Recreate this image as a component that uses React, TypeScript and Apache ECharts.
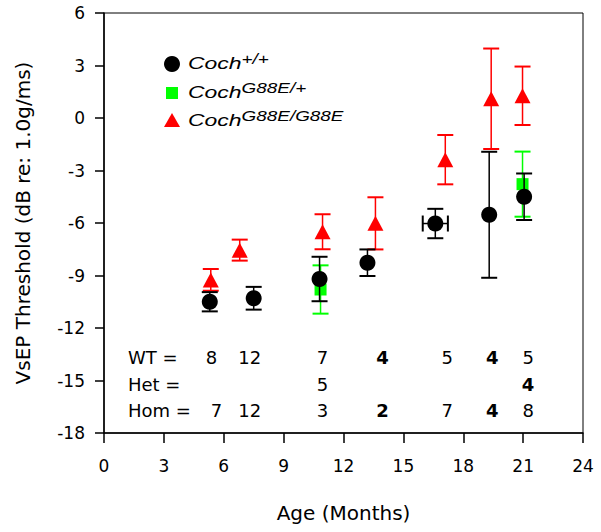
import React, { useEffect, useRef } from 'react';
import * as echarts from 'echarts';

// ---- data ----
const wtAge = [5.3, 7.5, 10.8, 13.2, 16.6, 19.3, 21.05];
const wtMean = [-10.5, -10.3, -9.2, -8.27, -6.03, -5.53, -4.5];
const wtErr = [0.55, 0.65, 1.27, 0.76, 0.84, 3.6, 1.33];
const wtAgeErr = [0, 0, 0, 0, 0.63, 0, 0];

const hetAge = [10.85, 20.97];
const hetMean = [-9.8, -3.78];
const hetErr = [1.38, 1.86];

const homAge = [5.35, 6.8, 10.95, 13.6, 17.1, 19.4, 20.97];
const homMean = [-9.25, -7.55, -6.5, -6.02, -2.38, 1.1, 1.27];
const homErr = [0.62, 0.6, 1.0, 1.49, 1.41, 2.87, 1.67];

const rowLabels = ['WT =', 'Het =', 'Hom ='];
const rowY = [-13.66, -15.2, -16.69];
const rowLabelAge = 1.2;
const wtCountAge = [5.38, 7.3, 10.95, 13.95, 17.2, 19.45, 21.25];
const wtCount = ['8', '12', '7', '4', '5', '4', '5'];
const hetCountAge = [10.95, 21.25];
const hetCount = ['5', '4'];
const homCountAge = [5.63, 7.3, 10.95, 13.95, 17.2, 19.45, 21.25];
const homCount = ['7', '12', '3', '2', '7', '4', '8'];
const boldCounts = ['4', '2'];

const legendBase = 'Coch';
const legendSup = ['+/+', 'G88E/+', 'G88E/G88E'];

const FONT = '"DejaVu Sans", sans-serif';
const LFONT = '"Liberation Sans", Arial, sans-serif';
const BLACK = '#000000';
const GREEN = '#00ff00';
const RED = '#ff0000';

function errRender(color: string, lw: number, capHalf: number) {
  return (params: any, api: any) => {
    const x = api.value(0);
    const y = api.value(1);
    const e = api.value(2);
    const xe = api.value(3) || 0;
    const top = api.coord([x, y + e]);
    const bot = api.coord([x, y - e]);
    const st = { stroke: color, lineWidth: lw };
    const cst = { stroke: color, lineWidth: lw + 0.5 };
    const children: any[] = [
      { type: 'line', shape: { x1: top[0], y1: top[1], x2: bot[0], y2: bot[1] }, style: st },
      { type: 'line', shape: { x1: top[0] - capHalf, y1: top[1], x2: top[0] + capHalf, y2: top[1] }, style: cst },
      { type: 'line', shape: { x1: bot[0] - capHalf, y1: bot[1], x2: bot[0] + capHalf, y2: bot[1] }, style: cst },
    ];
    if (xe > 0) {
      const l = api.coord([x - xe, y]);
      const r = api.coord([x + xe, y]);
      children.push(
        { type: 'line', shape: { x1: l[0], y1: l[1], x2: r[0], y2: r[1] }, style: st },
        { type: 'line', shape: { x1: l[0], y1: l[1] - capHalf, x2: l[0], y2: l[1] + capHalf }, style: cst },
        { type: 'line', shape: { x1: r[0], y1: r[1] - capHalf, x2: r[0], y2: r[1] + capHalf }, style: cst },
      );
    }
    return { type: 'group', children };
  };
}

function textSeries(ages: number[], ys: number[], texts: string[], align: string) {
  return {
    type: 'custom',
    silent: true,
    data: ages.map((a, i) => [a, ys[i]]),
    renderItem: (params: any, api: any) => {
      const p = api.coord([api.value(0), api.value(1)]);
      const t = texts[params.dataIndex];
      return {
        type: 'text',
        x: p[0],
        y: p[1],
        style: {
          text: t,
          fill: BLACK,
          font: `${boldCounts.includes(t) ? 'bold ' : ''}18px ${FONT}`,
          align,
          verticalAlign: 'middle',
        },
      };
    },
    z: 5,
  };
}

export default function App() {
  const ref = useRef<HTMLDivElement>(null);
  useEffect(() => {
    if (!ref.current) return;
    const chart = echarts.init(ref.current, undefined, { renderer: 'svg' });
    const legendY = [64, 93, 121];
    const supRich = {
      a: { fontFamily: LFONT, fontStyle: 'italic', fontSize: 17, lineHeight: 20, verticalAlign: 'bottom', fill: BLACK },
      b: { fontFamily: LFONT, fontStyle: 'italic', fontSize: 14, lineHeight: 14, verticalAlign: 'top', padding: [0, 0, 10, 0], fill: BLACK },
    } as any;
    const graphic: any[] = [
      { type: 'circle', shape: { cx: 172, cy: legendY[0], r: 8 }, style: { fill: BLACK } },
      { type: 'rect', shape: { x: 166, y: legendY[1] - 6, width: 12, height: 12 }, style: { fill: GREEN } },
      {
        type: 'polygon',
        shape: { points: [[172, legendY[2] - 8], [180, legendY[2] + 6], [164, legendY[2] + 6]] },
        style: { fill: RED },
      },
    ];
    legendSup.forEach((s, i) => {
      graphic.push({
        type: 'text',
        x: 188,
        y: legendY[i] - 2,
        scaleX: 1.35,
        style: {
          text: `{a|${legendBase}}{b|${s}}`,
          rich: supRich,
          align: 'left',
          verticalAlign: 'middle',
        },
      });
    });

    const series: any[] = [
      {
        name: 'het-err', type: 'custom', renderItem: errRender(GREEN, 1.5, 8),
        data: hetAge.map((a, i) => [a, hetMean[i], hetErr[i], 0]), z: 2,
      },
      {
        name: 'Het', type: 'scatter', symbol: 'rect', symbolSize: 12, itemStyle: { color: GREEN, opacity: 1 },
        data: hetAge.map((a, i) => [a, hetMean[i]]), z: 2,
      },
      {
        name: 'hom-err', type: 'custom', renderItem: errRender(RED, 1.5, 8),
        data: homAge.map((a, i) => [a, homMean[i], homErr[i], 0]), z: 3,
      },
      {
        name: 'Hom', type: 'scatter', symbol: 'triangle', symbolSize: [16, 15], itemStyle: { color: RED, opacity: 1 },
        data: homAge.map((a, i) => [a, homMean[i]]), z: 3,
      },
      {
        name: 'wt-err', type: 'custom', renderItem: errRender(BLACK, 1.5, 8),
        data: wtAge.map((a, i) => [a, wtMean[i], wtErr[i], wtAgeErr[i]]), z: 4,
      },
      {
        name: 'WT', type: 'scatter', symbol: 'circle', symbolSize: 16, itemStyle: { color: BLACK, opacity: 1 },
        data: wtAge.map((a, i) => [a, wtMean[i]]), z: 4,
      },
      textSeries(rowY.map(() => rowLabelAge), rowY, rowLabels, 'left'),
      textSeries(wtCountAge, wtCountAge.map(() => rowY[0]), wtCount, 'center'),
      textSeries(hetCountAge, hetCountAge.map(() => rowY[1]), hetCount, 'center'),
      textSeries(homCountAge, homCountAge.map(() => rowY[2]), homCount, 'center'),
    ];

    chart.setOption({
      animation: false,
      backgroundColor: '#ffffff',
      grid: { left: 104, right: 18, top: 13, bottom: 99, show: true, borderColor: BLACK, borderWidth: 1, backgroundColor: 'transparent' },
      xAxis: {
        type: 'value', min: 0, max: 24, interval: 3,
        name: 'Age (Months)', nameLocation: 'middle', nameGap: 70,
        nameTextStyle: { fontFamily: FONT, fontSize: 20, color: BLACK },
        axisLine: { show: true, onZero: false, lineStyle: { color: BLACK, width: 1.5 } },
        axisTick: { show: true, inside: false, length: 10, lineStyle: { color: BLACK, width: 1.5 } },
        axisLabel: { margin: 24, fontFamily: FONT, fontSize: 17, color: BLACK },
        splitLine: { show: false },
      },
      yAxis: {
        type: 'value', min: -18, max: 6, interval: 3,
        name: 'VsEP Threshold (dB re: 1.0g/ms)', nameLocation: 'middle', nameGap: 71,
        nameTextStyle: { fontFamily: FONT, fontSize: 20, color: BLACK },
        axisLine: { show: true, onZero: false, lineStyle: { color: BLACK, width: 1.5 } },
        axisTick: { show: true, inside: false, length: 9, lineStyle: { color: BLACK, width: 1.5 } },
        axisLabel: { margin: 19, fontFamily: FONT, fontSize: 17, color: BLACK },
        splitLine: { show: false },
      },
      graphic,
      series,
    });
    return () => chart.dispose();
  }, []);
  return <div ref={ref} style={{ width: 601, height: 532, position: 'absolute', left: 0, top: 0 }} />;
}
